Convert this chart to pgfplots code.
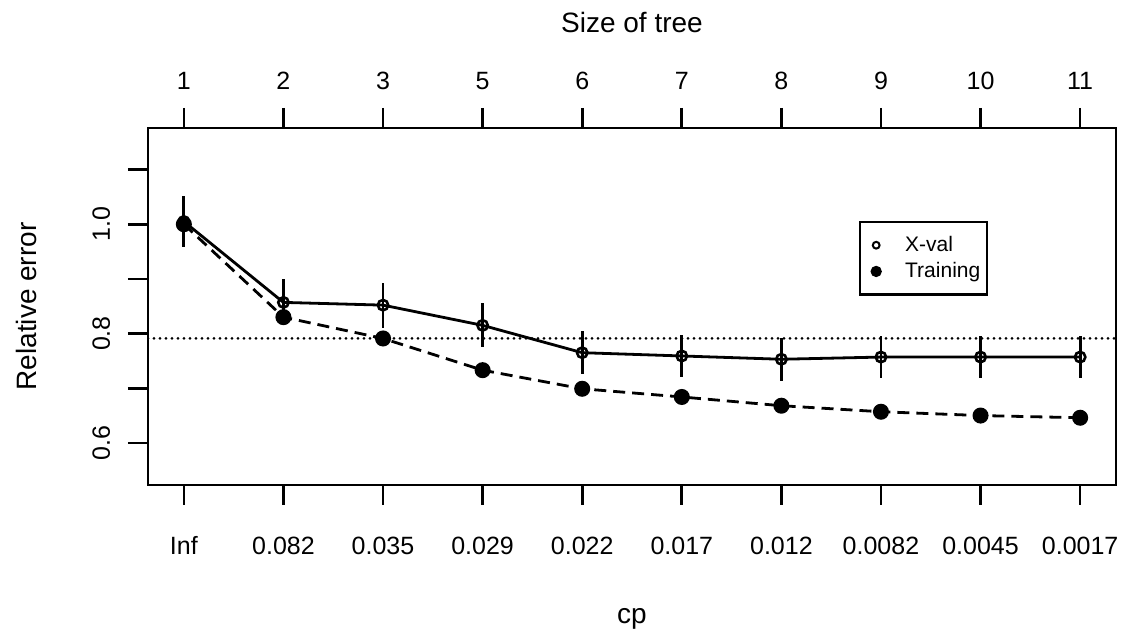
\documentclass[border=0pt]{standalone}
\usepackage{pgfplots}
\pgfplotsset{compat=1.18}
\usepackage{fontspec}
\setmainfont{Liberation Sans}
\begin{document}
\begin{tikzpicture}
\pgfplotsset{
  common/.style={
    scale only axis, width=484pt, height=178.5pt,
    at={(0,0)}, anchor=south west,
    xmin=0.64, xmax=10.36, ymin=0.523, ymax=1.176,
    axis line style={line width=1.4pt},
    tick align=outside, major tick length=10pt, minor tick length=10pt,
    every tick/.style={black, line width=1.3pt},
    tick label style={font=\fontsize{12.5}{14}\selectfont},
    label style={font=\fontsize{14}{16}\selectfont},
  }
}
\begin{axis}[common,
  xtick={1,...,10},
  xticklabels={Inf,0.082,0.035,0.029,0.022,0.017,0.012,0.0082,0.0045,0.0017},
  xtick pos=bottom, xticklabel pos=bottom,
  ytick={0.6,0.8,1.0}, yticklabels={0.6,0.8,1.0},
  minor ytick={0.7,0.9,1.1}, ytick pos=left,
  xticklabel style={anchor=base, yshift=-25pt},
  yticklabel style={xshift=-9pt, rotate=90, anchor=base},
  xlabel={cp},
  xlabel style={at={([yshift=-69.5pt]axis description cs:0.5,0)}, anchor=base},
  ylabel={Relative error},
  ylabel style={at={([xshift=-55.5pt]axis description cs:0,0.5)}, anchor=base},
  legend style={at={(axis description cs:0.7345,0.7397)}, anchor=north west,
    draw=black, line width=1.2pt, font=\fontsize{10.5}{12}\selectfont,
    inner xsep=1.5pt, inner ysep=5pt, row sep=0pt, nodes={inner sep=2pt}},
  legend cell align=left,
]
\addlegendimage{legend image code/.code={\draw[line width=1pt] (6.5pt,0) circle (1.7pt); \path[draw=none,fill=none] (0,-2pt) rectangle (19pt,2pt);}}
\addlegendimage{legend image code/.code={\fill (6.5pt,0) circle (2.2pt); \path[draw=none,fill=none] (0,-2pt) rectangle (19pt,2pt);}}
\legend{X-val,Training}
% reference line (min xerror + 1 SE)
\addplot[forget plot, line width=1.5pt, line cap=round, dash pattern=on 0pt off 3pt]
  coordinates {(0.64,0.791) (10.36,0.791)};
% cross-validated error with error bars
\addplot[forget plot, line width=1.4pt, mark=o, mark size=2.6pt,
  mark options={solid, line width=1.3pt},
  error bars/.cd, y dir=both, y explicit, error mark=none,
  error bar style={line width=1.4pt}]
  coordinates {
  (1,1.005) +- (0,0.046)
  (2,0.857) +- (0,0.042)
  (3,0.852) +- (0,0.041)
  (4,0.815) +- (0,0.040)
  (5,0.765) +- (0,0.039)
  (6,0.759) +- (0,0.039)
  (7,0.753) +- (0,0.039)
  (8,0.757) +- (0,0.039)
  (9,0.757) +- (0,0.039)
  (10,0.757) +- (0,0.039)
  };
% training error
\addplot[forget plot, line width=1.4pt, dash pattern=on 6pt off 3.5pt,
  mark=*, mark size=3.3pt, mark options={solid}]
  coordinates {
  (1,1.000) (2,0.830) (3,0.791) (4,0.733) (5,0.699)
  (6,0.684) (7,0.668) (8,0.657) (9,0.650) (10,0.646)
  };
\end{axis}
\begin{axis}[common,
  xtick={1,...,10},
  xticklabels={1,2,3,5,6,7,8,9,10,11},
  xtick pos=top, xticklabel pos=top,
  ytick=\empty,
  xticklabel style={anchor=base, yshift=9pt},
  xlabel={Size of tree},
  xlabel style={at={([yshift=47.5pt]axis description cs:0.5,1)}, anchor=base},
]
\end{axis}
\pgfresetboundingbox
\path[use as bounding box] (-74pt,-77.5pt) rectangle (494pt,242.5pt);
\end{tikzpicture}
\end{document}
